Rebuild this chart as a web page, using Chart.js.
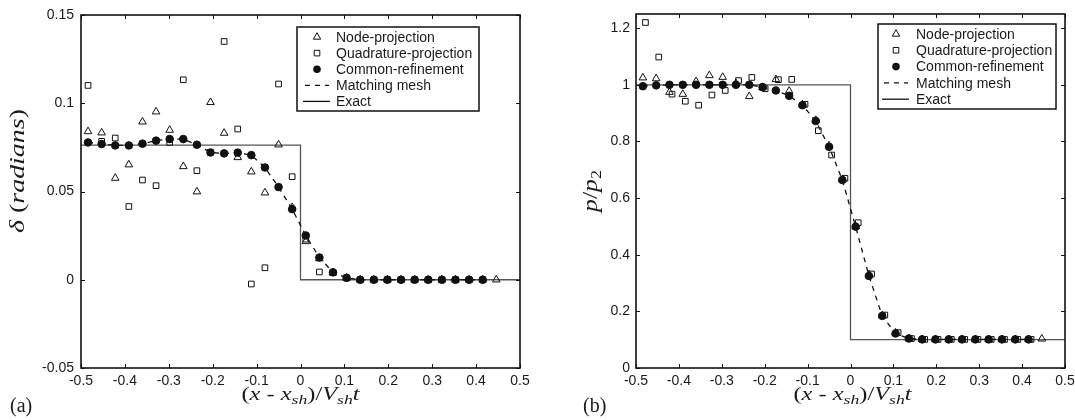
<!DOCTYPE html>
<html>
<head>
<meta charset="utf-8">
<script src="https://cdn.jsdelivr.net/npm/chart.js@4.4.0/dist/chart.umd.min.js"></script>
<style>
html, body { margin: 0; padding: 0; background: #fff; width: 1075px; height: 420px; overflow: hidden; }
canvas { position: absolute; top: 0; }
#chartA { left: 0; }
#chartB { left: 537px; }
</style>
</head>
<body>
<canvas id="chartA" width="537" height="420"></canvas>
<canvas id="chartB" width="538" height="420"></canvas>
<script>
// cell centres (x positions of the markers)
var cellX = [-0.484, -0.453, -0.422, -0.391, -0.360, -0.329, -0.298, -0.267, -0.236, -0.205,
             -0.174, -0.143, -0.112, -0.081, -0.050, -0.019, 0.012, 0.043, 0.074, 0.105,
             0.136, 0.167, 0.198, 0.229, 0.260, 0.291, 0.322, 0.353, 0.384, 0.415, 0.446];
// quadrature points in (b) sit a little to the right
var quadXB = [-0.478, -0.447, -0.416, -0.385, -0.354, -0.323, -0.292, -0.261, -0.230, -0.199,
              -0.168, -0.137, -0.106, -0.075, -0.044, -0.013, 0.018, 0.049, 0.080, 0.111,
              0.142, 0.173, 0.204, 0.235, 0.266, 0.297, 0.328, 0.359, 0.390, 0.421];

var xTicks = [-0.5, -0.4, -0.3, -0.2, -0.1, 0, 0.1, 0.2, 0.3, 0.4, 0.5];
var yTicksA = [-0.05, 0, 0.05, 0.1, 0.15];
var yTicksB = [0, 0.2, 0.4, 0.6, 0.8, 1, 1.2];

var legendNames = ["Node-projection", "Quadrature-projection", "Common-refinement", "Matching mesh", "Exact"];

// (a) delta
var nodeA = [0.0840, 0.0833, 0.0576, 0.0652, 0.0895, 0.0952, 0.0848, 0.0642, 0.0499, 0.1005,
             0.0831, 0.0693, 0.0612, 0.0493, 0.0765, 0.0410, 0.0217, 0.0120, 0.0040, 0.0010,
             0, 0, 0, 0, 0, 0, 0, 0, 0, 0, 0];
var quadA = [0.1101, 0.0784, 0.0803, 0.0415, 0.0565, 0.0533, 0.0778, 0.1133, 0.0618, 0.0722,
             0.1350, 0.0854, -0.0024, 0.0068, 0.1109, 0.0584, 0.0230, 0.0044, 0.0040, 0.0010,
             0, 0, 0, 0, 0, 0, 0, 0, 0, 0];
var commonA = [0.0778, 0.0769, 0.0761, 0.0761, 0.0771, 0.0788, 0.0797, 0.0797, 0.0765, 0.0721,
               0.0716, 0.0720, 0.0706, 0.0636, 0.0525, 0.0400, 0.0251, 0.0126, 0.0042, 0.0011,
               0, 0, 0, 0, 0, 0, 0, 0, 0, 0];
var matchA = [0.0778, 0.0769, 0.0761, 0.0761, 0.0771, 0.0788, 0.0797, 0.0797, 0.0765, 0.0721,
              0.0716, 0.0720, 0.0706, 0.0636, 0.0525, 0.0400, 0.0251, 0.0126, 0.0042, 0.0011,
              0, 0, 0, 0, 0, 0, 0, 0, 0, 0];

// (b) p/p2
var nodeB = [1.025, 1.022, 0.974, 0.967, 1.012, 1.033, 1.027, 1.005, 0.959, 0.990,
             1.019, 0.978, 0.930, 0.875, 0.785, 0.665, 0.500, 0.330, 0.185, 0.124,
             0.104, 0.101, 0.101, 0.101, 0.101, 0.101, 0.101, 0.101, 0.101, 0.101, 0.103];
var quadB = [1.220, 1.098, 0.967, 0.942, 0.928, 0.964, 0.980, 1.015, 1.026, 0.986,
             1.018, 1.019, 0.931, 0.838, 0.752, 0.670, 0.513, 0.332, 0.187, 0.125,
             0.104, 0.101, 0.101, 0.101, 0.101, 0.101, 0.101, 0.101, 0.101, 0.101];
var commonB = [0.995, 0.998, 1.000, 1.000, 1.000, 1.000, 1.000, 1.000, 1.000, 0.992,
               0.980, 0.961, 0.928, 0.872, 0.781, 0.664, 0.499, 0.325, 0.184, 0.122,
               0.104, 0.101, 0.101, 0.101, 0.101, 0.101, 0.101, 0.101, 0.101, 0.101];
var matchB = [0.995, 0.998, 1.000, 1.000, 1.000, 1.000, 1.000, 1.000, 1.000, 0.992,
              0.980, 0.961, 0.928, 0.872, 0.781, 0.664, 0.499, 0.325, 0.184, 0.122,
              0.104, 0.101, 0.101, 0.101, 0.101, 0.101, 0.101, 0.101, 0.101, 0.101];

var exactX = [-0.5, 0, 0, 0.5];
var exactA = [0.0763, 0.0763, 0, 0];
var exactB = [1, 1, 0.1, 0.1];

var INK = '#111';
var SANS = "'Liberation Sans', Arial, sans-serif";
var SERIF = "'Liberation Serif', 'Times New Roman', serif";

Chart.defaults.font.family = SANS;
Chart.defaults.color = '#1a1a1a';
Chart.defaults.animation = false;

function pts(xs, ys) {
    return ys.map(function (y, i) { return { x: xs[i], y: y }; });
}

function makeSets(node, quad, quadX, common, match, exact) {
    return [
        { label: legendNames[4], data: pts(exactX, exact), showLine: true, borderColor: '#555',
          borderWidth: 1.3, pointRadius: 0, order: 5 },
        { label: legendNames[3], data: pts(cellX, match), showLine: true, borderColor: INK,
          borderWidth: 1.3, borderDash: [5, 5], pointRadius: 0, order: 4 },
        { label: legendNames[0], data: pts(cellX, node), pointStyle: 'triangle', pointRadius: 4.4,
          borderColor: INK, borderWidth: 1, backgroundColor: 'rgba(0,0,0,0)', order: 3 },
        { label: legendNames[1], data: pts(quadX, quad), pointStyle: 'rect', pointRadius: 4,
          borderColor: INK, borderWidth: 1, backgroundColor: 'rgba(0,0,0,0)', order: 2 },
        { label: legendNames[2], data: pts(cellX, common), pointStyle: 'circle', pointRadius: 3.8,
          borderColor: INK, borderWidth: 1, backgroundColor: INK, order: 1 }
    ];
}

function fmt(v) { return String(Math.round(v * 1000) / 1000); }

// box, inward tick marks on all four sides
var frame = {
    id: 'frame',
    afterDatasetsDraw: function (chart) {
        var ctx = chart.ctx, a = chart.chartArea;
        var xs = chart.scales.x, ys = chart.scales.y;
        ctx.save();
        ctx.strokeStyle = INK;
        ctx.lineWidth = 1;
        ctx.beginPath();
        xs.ticks.forEach(function (t) {
            var px = Math.round(xs.getPixelForValue(t.value)) + 0.5;
            ctx.moveTo(px, a.bottom); ctx.lineTo(px, a.bottom - 4);
            ctx.moveTo(px, a.top); ctx.lineTo(px, a.top + 4);
        });
        ys.ticks.forEach(function (t) {
            var py = Math.round(ys.getPixelForValue(t.value)) + 0.5;
            ctx.moveTo(a.left, py); ctx.lineTo(a.left + 4, py);
            ctx.moveTo(a.right, py); ctx.lineTo(a.right - 4, py);
        });
        ctx.stroke();
        ctx.lineWidth = 1.6;
        ctx.strokeRect(a.left, a.top, a.right - a.left, a.bottom - a.top);
        ctx.restore();
    }
};

function drawRich(ctx, parts, cx, cy, rot, targetW) {
    var w = 0;
    parts.forEach(function (p) { ctx.font = p[1]; w += ctx.measureText(p[0]).width; });
    var s = targetW ? targetW / w : 1;
    ctx.save();
    ctx.translate(cx, cy);
    ctx.rotate(rot);
    ctx.scale(s, 1);
    ctx.textBaseline = 'alphabetic';
    ctx.textAlign = 'left';
    var x = -w / 2;
    parts.forEach(function (p) {
        ctx.font = p[1];
        ctx.fillText(p[0], x, p[2] || 0);
        x += ctx.measureText(p[0]).width;
    });
    ctx.restore();
}

var titles = {
    id: 'titles',
    afterDraw: function (chart, args, o) {
        var ctx = chart.ctx, a = chart.chartArea;
        var I = 'italic 18px ' + SERIF, R = '18px ' + SERIF, S = 'italic 13px ' + SERIF;
        ctx.save();
        ctx.fillStyle = '#1a1a1a';
        drawRich(ctx, [['(', R], ['x', I], [' - ', R], ['x', I], ['sh', S, 4], [')/', R],
                       ['V', I], ['sh', S, 4], ['t', I]],
                 (a.left + a.right) / 2 + o.xShift, 400, 0, 118);
        drawRich(ctx, o.yParts('italic 20px ' + SERIF, '20px ' + SERIF), o.yBase, o.yMid, -Math.PI / 2, o.yLen);
        ctx.font = '20px ' + SERIF;
        ctx.textBaseline = 'alphabetic';
        ctx.fillText(o.tag, o.tagX, 412);
        ctx.restore();
    }
};

var boxLegend = {
    id: 'boxLegend',
    afterDraw: function (chart, args, o) {
        var ctx = chart.ctx;
        ctx.save();
        ctx.fillStyle = '#fff';
        ctx.fillRect(o.x, o.y, o.w, o.h);
        ctx.strokeStyle = INK;
        ctx.lineWidth = 1.5;
        ctx.strokeRect(o.x, o.y, o.w, o.h);
        ctx.font = '14px ' + SANS;
        ctx.textBaseline = 'middle';
        legendNames.forEach(function (name, i) {
            var y = o.rowY0 + i * o.rowGap, sx = o.symX;
            ctx.strokeStyle = INK;
            ctx.fillStyle = INK;
            ctx.lineWidth = 1;
            ctx.setLineDash([]);
            ctx.beginPath();
            if (i === 0) {
                ctx.moveTo(sx, y - 4.3); ctx.lineTo(sx + 3.7, y + 2.2); ctx.lineTo(sx - 3.7, y + 2.2);
                ctx.closePath(); ctx.stroke();
            } else if (i === 1) {
                ctx.rect(sx - 2.8, y - 2.8, 5.6, 5.6); ctx.stroke();
            } else if (i === 2) {
                ctx.arc(sx, y, 3.8, 0, Math.PI * 2); ctx.fill();
            } else if (i === 3) {
                ctx.lineWidth = 1.3;
                ctx.setLineDash([5, 5]);
                ctx.moveTo(sx - 12, y); ctx.lineTo(sx + 12, y); ctx.stroke();
            } else {
                ctx.lineWidth = 1.3;
                ctx.moveTo(sx - 14, y); ctx.lineTo(sx + 13, y); ctx.stroke();
            }
            ctx.setLineDash([]);
            ctx.fillStyle = '#1a1a1a';
            ctx.fillText(name, o.textX, y + 1);
        });
        ctx.restore();
    }
};

function makeOptions(yMin, yMax, yTicks, padRight, padTop, yWidth, yPad, legendOpts, titleOpts) {
    return {
        responsive: false,
        animation: false,
        layout: { padding: { left: 0, right: padRight, top: padTop, bottom: 0 } },
        plugins: {
            legend: { display: false },
            tooltip: { enabled: false },
            boxLegend: legendOpts,
            titles: titleOpts
        },
        scales: {
            x: {
                type: 'linear', min: -0.5, max: 0.5,
                grid: { display: false, drawTicks: false }, border: { display: false },
                afterBuildTicks: function (s) { s.ticks = xTicks.map(function (v) { return { value: v }; }); },
                afterFit: function (s) { s.height = 52; s.paddingLeft = 0; s.paddingRight = 0; },
                ticks: { padding: 5, font: { size: 14 }, color: '#1a1a1a', maxRotation: 0,
                         callback: function (v) { return fmt(v); } }
            },
            y: {
                type: 'linear', min: yMin, max: yMax,
                grid: { display: false, drawTicks: false }, border: { display: false },
                afterBuildTicks: function (s) { s.ticks = yTicks.map(function (v) { return { value: v }; }); },
                afterFit: function (s) { s.width = yWidth; s.paddingTop = 0; s.paddingBottom = 0; },
                ticks: { padding: yPad, font: { size: 14 }, color: '#1a1a1a',
                         callback: function (v) { return fmt(v); } }
            }
        }
    };
}

new Chart('chartA', {
    type: 'scatter',
    data: { datasets: makeSets(nodeA, quadA, cellX, commonA, matchA, exactA) },
    options: makeOptions(-0.05, 0.15, yTicksA, 17, 15, 81, 7,
        { x: 297, y: 27, w: 182, h: 84, symX: 317, textX: 336, rowY0: 37, rowGap: 16.1 },
        { xShift: 0, yBase: 24, yMid: 171, yLen: 124, tag: '(a)', tagX: 10,
          yParts: function (I, R) { return [['\u03b4', I], [' (', R], ['radians', I], [')', R]]; } }),
    plugins: [frame, titles, boxLegend]
});

new Chart('chartB', {
    type: 'scatter',
    data: { datasets: makeSets(nodeB, quadB, quadXB, commonB, matchB, exactB) },
    options: makeOptions(0, 1.25, yTicksB, 10, 14, 99, 6,
        { x: 341, y: 24, w: 178, h: 85, symX: 359, textX: 379, rowY0: 34, rowGap: 16.3 },
        { xShift: 2, yBase: 60, yMid: 191, yLen: 42, tag: '(b)', tagX: 46,
          yParts: function (I, R) { return [['p', I], ['/', R], ['p', I], ['2', '14px ' + SERIF, 4]]; } }),
    plugins: [frame, titles, boxLegend]
});
</script>
</body>
</html>
